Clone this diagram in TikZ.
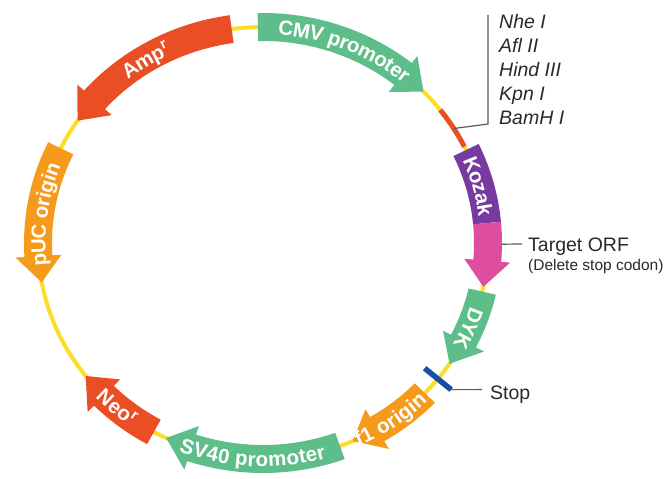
\documentclass[tikz,border=0pt]{standalone}
\usepackage{fontspec}
\setmainfont{Liberation Sans}
\usepackage{tikz}
\usetikzlibrary{decorations.text,positioning}
\definecolor{cmvgreen}{RGB}{94,190,138}
\definecolor{resred}{RGB}{234,78,36}
\definecolor{oriorange}{RGB}{246,154,28}
\definecolor{kozpurple}{RGB}{118,58,160}
\definecolor{orfpink}{RGB}{222,78,160}
\definecolor{bbyellow}{RGB}{255,221,38}
\definecolor{stopblue}{RGB}{22,78,168}
\definecolor{leadgray}{RGB}{90,90,90}
\definecolor{labtext}{RGB}{40,40,48}
\newcommand{\arrowtext}{\fontsize{20.5}{24}\selectfont\bfseries\color{white}}
\tikzset{
  backbone/.style={draw=bbyellow,line width=4},
  leader/.style={draw=leadgray,line width=1.2},
  lbl/.style={inner sep=0pt,anchor=base west,text=labtext,font=\fontsize{19.5}{24}\selectfont},
  site/.style={lbl,font=\fontsize{19.5}{24}\selectfont\itshape},
  note/.style={lbl,font=\fontsize{15.5}{18}\selectfont},
}
% curved feature arrow on the backbone: from, tip, colour
\newcommand{\feature}[3]{%
  \pgfmathsetmacro{\hb}{#2-7*sign(#2-#1)}
  \fill[#3] (#1:239 and 230) arc[start angle=#1,end angle=\hb,x radius=239,y radius=230]
    -- (\hb:248 and 239) -- (#2:225 and 216) -- (\hb:202 and 193) -- (\hb:211 and 202)
    arc[start angle=\hb,end angle=#1,x radius=211,y radius=202] -- cycle;}
% white text set along the backbone: from, to, text
\newcommand{\arclabel}[3]{%
  \path[decorate,decoration={text along path,text align=center,raise=-7.5pt,
    text={|\arrowtext|#3}}] (#1:225 and 216) arc[start angle=#1,end angle=#2,x radius=225,y radius=216];}

\begin{document}
\begin{tikzpicture}[x=1pt,y=1pt]
\useasboundingbox (0,0) rectangle (665,479);
\begin{scope}[shift={(263,236)}]
% backbone and cloning sites
\draw[backbone] (0,0) ellipse[x radius=225,y radius=216];
\draw[resred,line width=5] (38:225 and 216) arc[start angle=38,end angle=26.5,x radius=225,y radius=216];
% features
\feature{91.3}{44.5}{cmvgreen}
\fill[kozpurple] (25.5:239 and 230) arc[start angle=25.5,end angle=5.3,x radius=239,y radius=230]
  -- (5.3:211 and 202) arc[start angle=5.3,end angle=25.5,x radius=211,y radius=202] -- cycle;
\feature{5.3}{-11.7}{orfpink}
\feature{-13}{-34}{cmvgreen}
\feature{-44}{-66.5}{oriorange}
\feature{-70}{-115.5}{cmvgreen}
\feature{-119}{-142}{resred}
\feature{154}{190.5}{oriorange}
\feature{98}{145.5}{resred}
\draw[stopblue,line width=5.5] (-39:208 and 199) -- (-39:242 and 233);
% labels on the features
\arclabel{91.3}{44.5}{CMV promoter}
\arclabel{25.5}{5.3}{Kozak}
\arclabel{-13}{-34}{DYK}
\arclabel{-66.5}{-44}{f1 origin}
\arclabel{-115.5}{-70}{SV40 promoter}
\arclabel{-142}{-119}{Neo{\textsuperscript{r}}}
\arclabel{190.5}{154}{pUC origin}
\arclabel{145.5}{98}{Amp{\textsuperscript{r}}}
\coordinate (mcs) at (32:225 and 216);
\coordinate (orf) at (-0.3:239 and 230);
\coordinate (stop) at (-39:242 and 233);
\end{scope}
% restriction sites
\foreach \s [count=\i] in {Nhe I,Afl II,Hind III,Kpn I,BamH I}
  \node[site] (site\i) at (499,474-24*\i) {\s};
\coordinate (mcsbend) at (488,355);
\coordinate (mcstop) at (488,464);
\draw[leader] (mcs) -- (mcsbend) -- (mcstop);
% insert and stop
\node[lbl] (orflbl) at (528,227) {Target ORF};
\node[note] (orfnote) at (528,208.5) {(Delete stop codon)};
\coordinate (orfend) at (522,235);
\draw[leader] (orf) -- (orfend);
\node[lbl] (stoplbl) at (490,79) {Stop};
\coordinate (stopend) at (482,89.4);
\draw[leader] (stop) -- (stopend);
\end{tikzpicture}
\end{document}
